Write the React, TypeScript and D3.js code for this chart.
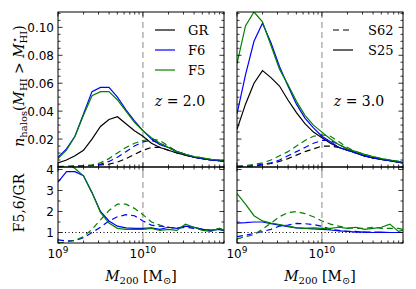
import React from 'react'
import * as d3 from 'd3'

// log10(M200) bin centres shared by every curve
const logMass = [9.0, 9.1, 9.2, 9.3, 9.4, 9.5, 9.6, 9.7, 9.8, 9.9, 10.0, 10.1, 10.2, 10.3, 10.4, 10.5, 10.6, 10.7, 10.8, 10.9, 10.95]

// z = 2.0, S25 (solid)
const grS25z2 = [0.003, 0.005, 0.008, 0.012, 0.02, 0.029, 0.034, 0.036, 0.031, 0.026, 0.022, 0.017, 0.014, 0.012, 0.01, 0.0085, 0.007, 0.006, 0.005, 0.0045, 0.004]
const f6S25z2 = [0.007, 0.013, 0.022, 0.038, 0.054, 0.057, 0.057, 0.05, 0.041, 0.033, 0.026, 0.02, 0.016, 0.014, 0.011, 0.009, 0.007, 0.006, 0.005, 0.0045, 0.004]
const f5S25z2 = [0.006, 0.012, 0.022, 0.037, 0.051, 0.054, 0.054, 0.048, 0.04, 0.032, 0.026, 0.021, 0.017, 0.014, 0.011, 0.009, 0.0075, 0.0065, 0.0055, 0.005, 0.0045]
// z = 2.0, S62 (dashed)
const grS62z2 = [0.0002, 0.0003, 0.0005, 0.0008, 0.001, 0.0015, 0.002, 0.0035, 0.006, 0.009, 0.012, 0.014, 0.014, 0.012, 0.01, 0.0085, 0.007, 0.006, 0.005, 0.0045, 0.004]
const f6S62z2 = [0.0003, 0.0004, 0.0006, 0.0009, 0.0012, 0.002, 0.004, 0.007, 0.011, 0.015, 0.018, 0.019, 0.017, 0.014, 0.011, 0.009, 0.007, 0.006, 0.005, 0.0045, 0.004]
const f5S62z2 = [0.0004, 0.0005, 0.0007, 0.001, 0.0015, 0.003, 0.006, 0.01, 0.014, 0.017, 0.019, 0.02, 0.019, 0.015, 0.011, 0.009, 0.0075, 0.0065, 0.0055, 0.005, 0.0045]

// z = 3.0, S25 (solid)
const grS25z3 = [0.027, 0.045, 0.06, 0.069, 0.064, 0.058, 0.048, 0.039, 0.031, 0.025, 0.021, 0.017, 0.014, 0.012, 0.01, 0.008, 0.0065, 0.0055, 0.0045, 0.0035, 0.003]
const f6S25z3 = [0.038, 0.066, 0.09, 0.103, 0.089, 0.072, 0.058, 0.045, 0.035, 0.028, 0.022, 0.018, 0.014, 0.012, 0.01, 0.008, 0.0065, 0.0055, 0.0045, 0.0035, 0.003]
const f5S25z3 = [0.074, 0.101, 0.111, 0.104, 0.087, 0.07, 0.059, 0.047, 0.037, 0.03, 0.025, 0.02, 0.016, 0.013, 0.011, 0.009, 0.0075, 0.006, 0.005, 0.004, 0.0035]
// z = 3.0, S62 (dashed)
const grS62z3 = [0.0003, 0.0005, 0.0008, 0.0015, 0.0025, 0.004, 0.006, 0.0085, 0.011, 0.013, 0.015, 0.015, 0.014, 0.012, 0.01, 0.008, 0.0065, 0.0055, 0.0045, 0.0035, 0.003]
const f6S62z3 = [0.0004, 0.0006, 0.001, 0.002, 0.003, 0.005, 0.008, 0.011, 0.014, 0.017, 0.019, 0.019, 0.016, 0.013, 0.01, 0.008, 0.0065, 0.0055, 0.0045, 0.0035, 0.003]
const f5S62z3 = [0.0006, 0.001, 0.0018, 0.003, 0.005, 0.008, 0.011, 0.015, 0.019, 0.022, 0.023, 0.022, 0.018, 0.014, 0.011, 0.009, 0.0075, 0.006, 0.005, 0.004, 0.0035]

// ratios to GR
const f6RatioS25z2 = [3.4, 3.9, 3.9, 3.7, 2.9, 2.0, 1.55, 1.3, 1.22, 1.2, 1.2, 1.22, 1.15, 1.25, 1.2, 1.3, 1.25, 1.15, 1.1, 1.15, 1.1]
const f5RatioS25z2 = [4.6, 4.3, 4.05, 3.7, 2.9, 1.95, 1.45, 1.2, 1.15, 1.15, 1.15, 1.2, 1.1, 1.15, 1.1, 1.4, 1.25, 1.1, 1.05, 1.2, 1.1]
const f6RatioS62z2 = [0.65, 0.6, 0.62, 0.75, 1.0, 1.25, 1.55, 1.75, 1.85, 1.8, 1.55, 1.35, 1.3, 1.25, 1.2, 1.25, 1.2, 1.15, 1.1, 1.15, 1.1]
const f5RatioS62z2 = [0.5, 0.55, 0.62, 0.8, 1.15, 1.6, 2.05, 2.35, 2.35, 2.15, 1.85, 1.5, 1.35, 1.25, 1.2, 1.3, 1.25, 1.15, 1.1, 1.2, 1.15]
const f6RatioS25z3 = [1.45, 1.47, 1.5, 1.5, 1.42, 1.35, 1.28, 1.22, 1.2, 1.17, 1.15, 1.12, 1.08, 1.05, 1.02, 1.03, 1.0, 1.02, 1.0, 1.0, 1.0]
const f5RatioS25z3 = [2.85, 2.35, 1.8, 1.55, 1.45, 1.38, 1.3, 1.22, 1.2, 1.22, 1.2, 1.2, 1.25, 1.2, 1.25, 1.15, 1.2, 1.25, 1.4, 1.05, 1.1]
const f6RatioS62z3 = [0.8, 0.88, 0.95, 1.05, 1.15, 1.3, 1.35, 1.43, 1.42, 1.38, 1.3, 1.15, 1.1, 1.05, 1.05, 1.0, 1.02, 1.0, 1.0, 1.0, 1.0]
const f5RatioS62z3 = [0.7, 0.8, 0.9, 1.15, 1.45, 1.75, 1.95, 2.0, 1.9, 1.75, 1.55, 1.4, 1.3, 1.22, 1.2, 1.2, 1.25, 1.2, 1.2, 1.2, 1.15]

const models = ['GR', 'F6', 'F5']
const modelColors = ['#000000', '#0000ff', '#008000']
const redshiftLabels = ['2.0', '3.0']
const topTickLabels = ['0.02', '0.04', '0.06', '0.08', '0.10']
const ratioTickLabels = ['1', '2', '3', '4']

const panels = [
  {
    z: redshiftLabels[0],
    solid: [grS25z2, f6S25z2, f5S25z2],
    dashed: [grS62z2, f6S62z2, f5S62z2],
    ratioSolid: [f6RatioS25z2, f5RatioS25z2],
    ratioDashed: [f6RatioS62z2, f5RatioS62z2]
  },
  {
    z: redshiftLabels[1],
    solid: [grS25z3, f6S25z3, f5S25z3],
    dashed: [grS62z3, f6S62z3, f5S62z3],
    ratioSolid: [f6RatioS25z3, f5RatioS25z3],
    ratioDashed: [f6RatioS62z3, f5RatioS62z3]
  }
]

const panelX = [
  [58, 224],
  [237, 403]
]
const topY = [12, 167]
const botY = [167, 243]
const SANS = 'DejaVu Sans, sans-serif'
const SERIF = 'DejaVu Serif, serif'

const Panel = ({ idx }: { idx: number }) => {
  const p = panels[idx]
  const [x0, x1] = panelX[idx]
  const x = d3.scaleLog().domain([1e9, 9e10]).range([x0, x1])
  const yTop = d3.scaleLinear().domain([0, 0.111]).range([topY[1], topY[0]])
  const yBot = d3.scaleLinear().domain([0.5, 4.12]).range([botY[1], botY[0]])

  const lineTop = d3
    .line<number>()
    .x((_, i) => x(Math.pow(10, logMass[i])))
    .y((d) => yTop(d))
  const lineBot = d3
    .line<number>()
    .x((_, i) => x(Math.pow(10, logMass[i])))
    .y((d) => yBot(d))

  const xTicks = x.ticks().filter((t) => t >= 1e9 && t <= 9e10)
  const isMajor = (t: number) => Math.abs(Math.log10(t) - Math.round(Math.log10(t))) < 1e-6
  const topTicks = d3.range(0, 0.1101, 0.005)
  const botTicks = d3.range(0.5, 4.11, 0.5)
  const vx = x(1e10)

  const tick = (key: string, x1_: number, y1_: number, x2_: number, y2_: number) => (
    <line key={key} x1={x1_} y1={y1_} x2={x2_} y2={y2_} stroke="#000" strokeWidth={0.8} />
  )

  return (
    <g>
      <defs>
        <clipPath id={`ct${idx}`}>
          <rect x={x0} y={topY[0]} width={x1 - x0} height={topY[1] - topY[0]} />
        </clipPath>
        <clipPath id={`cb${idx}`}>
          <rect x={x0} y={botY[0]} width={x1 - x0} height={botY[1] - botY[0]} />
        </clipPath>
      </defs>

      {/* reference lines */}
      <line x1={vx} x2={vx} y1={topY[0]} y2={botY[1]} stroke="#888" strokeWidth={1} strokeDasharray="6,4" />
      <line x1={x0} x2={x1} y1={yBot(1)} y2={yBot(1)} stroke="#000" strokeWidth={1} strokeDasharray="1,2.5" />

      <g clipPath={`url(#ct${idx})`} fill="none" strokeWidth={1.2}>
        {p.dashed.map((s, i) => (
          <path key={'d' + i} d={lineTop(s)} stroke={modelColors[i]} strokeDasharray="6,4" />
        ))}
        {p.solid.map((s, i) => (
          <path key={'s' + i} d={lineTop(s)} stroke={modelColors[i]} />
        ))}
      </g>
      <g clipPath={`url(#cb${idx})`} fill="none" strokeWidth={1.2}>
        {p.ratioDashed.map((s, i) => (
          <path key={'rd' + i} d={lineBot(s)} stroke={modelColors[i + 1]} strokeDasharray="6,4" />
        ))}
        {p.ratioSolid.map((s, i) => (
          <path key={'rs' + i} d={lineBot(s)} stroke={modelColors[i + 1]} />
        ))}
      </g>

      {/* ticks */}
      {xTicks.map((t) => {
        const L = isMajor(t) ? 4.5 : 2.5
        const tx = x(t)
        return (
          <g key={'xt' + t}>
            {tick('a', tx, topY[0], tx, topY[0] + L)}
            {tick('b', tx, topY[1], tx, topY[1] - L)}
            {tick('c', tx, botY[0], tx, botY[0] + L)}
            {tick('d', tx, botY[1], tx, botY[1] - L)}
          </g>
        )
      })}
      {topTicks.map((t, i) => {
        const L = i % 4 === 0 ? 4.5 : 2.5
        const ty = yTop(t)
        return (
          <g key={'yt' + i}>
            {tick('a', x0, ty, x0 + L, ty)}
            {tick('b', x1, ty, x1 - L, ty)}
          </g>
        )
      })}
      {botTicks.map((t, i) => {
        const L = i % 2 === 1 ? 4.5 : 2.5
        const ty = yBot(t)
        return (
          <g key={'yb' + i}>
            {tick('a', x0, ty, x0 + L, ty)}
            {tick('b', x1, ty, x1 - L, ty)}
          </g>
        )
      })}

      {/* frames */}
      <rect x={x0} y={topY[0]} width={x1 - x0} height={topY[1] - topY[0]} fill="none" stroke="#000" strokeWidth={1} />
      <rect x={x0} y={botY[0]} width={x1 - x0} height={botY[1] - botY[0]} fill="none" stroke="#000" strokeWidth={1} />

      {/* x tick labels */}
      {xTicks.filter(isMajor).map((t) => (
        <text key={'xl' + t} x={x(t)} y={258} textAnchor="middle" fontFamily={SANS} fontSize={12}>
          10
          <tspan dy={-5} fontSize={9}>
            {Math.round(Math.log10(t))}
          </tspan>
        </text>
      ))}

      {/* y tick labels (left panel only) */}
      {idx === 0 &&
        topTickLabels.map((l) => (
          <text key={l} x={54} y={yTop(+l) + 4.5} textAnchor="end" fontFamily={SANS} fontSize={12}>
            {l}
          </text>
        ))}
      {idx === 0 &&
        ratioTickLabels.map((l) => (
          <text key={l} x={54} y={yBot(+l) + 4.5} textAnchor="end" fontFamily={SANS} fontSize={12}>
            {l}
          </text>
        ))}

      {/* x axis label */}
      <text x={(x0 + x1) / 2} y={281} textAnchor="middle" fontFamily={SERIF} fontSize={14}>
        <tspan fontStyle="italic">M</tspan>
        <tspan fontSize={10} dy={3}>
          200
        </tspan>
        <tspan dy={-3}> [M</tspan>
        <tspan fontSize={10} dy={3}>
          ⊙
        </tspan>
        <tspan dy={-3}>]</tspan>
      </text>

      {/* redshift label */}
      <text x={idx === 0 ? 180 : 359} y={106} textAnchor="middle" fontFamily={SERIF} fontSize={14}>
        <tspan fontStyle="italic">z</tspan>
        {' = ' + p.z}
      </text>
    </g>
  )
}

const App = () => {
  return (
    <div style={{ position: 'absolute', left: 0, top: 0 }}>
      <svg width={416} height={289} style={{ display: 'block', background: '#fff' }}>
        <Panel idx={0} />
        <Panel idx={1} />

        {/* model legend */}
        {models.map((m, i) => (
          <g key={m}>
            <line x1={155} x2={175} y1={30 + i * 20} y2={30 + i * 20} stroke={modelColors[i]} strokeWidth={1.2} />
            <text x={188} y={35 + i * 20} fontFamily={SERIF} fontSize={13}>
              {m}
            </text>
          </g>
        ))}
        {/* resolution legend */}
        {['S62', 'S25'].map((s, i) => (
          <g key={s}>
            <line
              x1={333}
              x2={353}
              y1={30 + i * 20}
              y2={30 + i * 20}
              stroke="#000"
              strokeWidth={1.2}
              strokeDasharray={i === 0 ? '6,4' : undefined}
            />
            <text x={368} y={35 + i * 20} fontFamily={SERIF} fontSize={13}>
              {s}
            </text>
          </g>
        ))}

        {/* y axis labels */}
        <text transform="translate(24,86) rotate(-90)" textAnchor="middle" fontFamily={SERIF} fontSize={14}>
          <tspan fontStyle="italic">n</tspan>
          <tspan fontSize={10} dy={3}>
            halos
          </tspan>
          <tspan dy={-3}>(</tspan>
          <tspan fontStyle="italic">M</tspan>
          <tspan fontSize={10} dy={3}>
            HI
          </tspan>
          <tspan dy={-3}> &gt; </tspan>
          <tspan fontStyle="italic">M</tspan>
          <tspan fontSize={10} dy={-6}>
            ⋆
          </tspan>
          <tspan fontSize={10} dx={-6} dy={9}>
            HI
          </tspan>
          <tspan dy={-3}>)</tspan>
        </text>
        <text transform="translate(24,203) rotate(-90)" textAnchor="middle" fontFamily={SERIF} fontSize={14}>
          F5,6/GR
        </text>
      </svg>
    </div>
  )
}

export default App
